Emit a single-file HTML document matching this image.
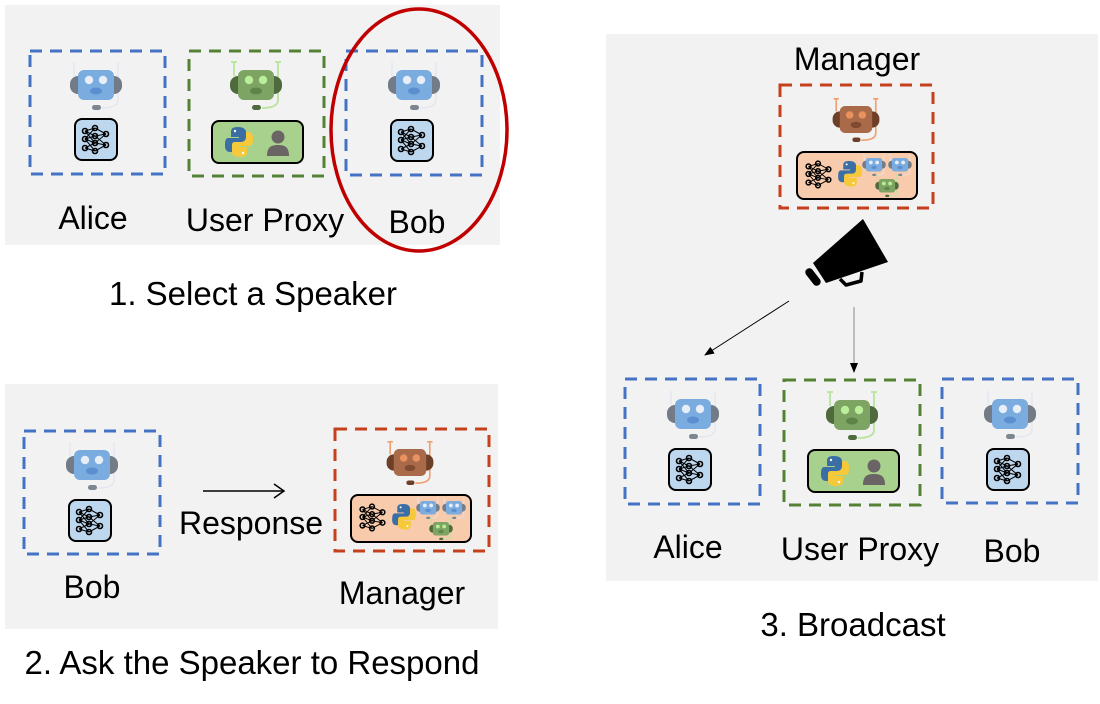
<!DOCTYPE html>
<html><head><meta charset="utf-8"><style>
html,body{margin:0;padding:0;background:#fff;}
svg{display:block;}
text{font-family:"Liberation Sans",Arial,sans-serif;fill:#000;}
</style></head><body>
<svg width="1100" height="704" viewBox="0 0 1100 704" xmlns="http://www.w3.org/2000/svg">
<defs>
  <g id="netlines">
    <g stroke="#000" stroke-width="1" fill="none">
      <path d="M10 12 L20 9 M10 12 L20 17 M10 20 L20 9 M10 20 L20 17 M10 20 L20 24 M10 29 L20 24 M10 29 L20 32 M10 12 L20 24 M20 9 L31 15 M20 17 L31 15 M20 17 L31 26 M20 24 L31 15 M20 24 L31 26 M20 32 L31 26 M10 20 L20 32"/>
    </g>
    <g fill="none" stroke="#000" stroke-width="1.6">
      <circle cx="10" cy="12" r="2.5"/><circle cx="10" cy="20" r="2.5"/><circle cx="10" cy="29" r="2.5"/>
      <circle cx="20" cy="9" r="2.5"/><circle cx="20" cy="17" r="2.5"/><circle cx="20" cy="24" r="2.5"/><circle cx="20" cy="32" r="2.5"/>
      <circle cx="31" cy="15" r="2.5"/><circle cx="31" cy="26" r="2.5"/>
    </g>
  </g>
  <g id="net">
    <rect x="0" y="0" width="42" height="41" rx="7" fill="#bdd7ee" stroke="#000" stroke-width="2"/>
    <use href="#netlines"/>
  </g>
  <g id="botB">
    <path d="M-22 -8 V6 M22 -8 V30 Q22 38 6 38" stroke="#e6e6f2" stroke-width="1.5" fill="none"/>
    <rect x="-26" y="6" width="52" height="18" rx="8" fill="#727b86"/>
    <rect x="-18" y="0" width="36" height="30" rx="6" fill="#7aace0"/>
    <circle cx="-7" cy="10" r="4.2" fill="#e8eef8"/><circle cx="7" cy="10" r="4.2" fill="#e8eef8"/>
    <ellipse cx="0" cy="21" rx="6" ry="3.5" fill="#5b8fcf"/>
    <rect x="-4" y="35" width="9" height="5" rx="2.5" fill="#7d8590"/>
  </g>
  <g id="botG">
    <path d="M-22 -8 V6 M22 -8 V30 Q22 38 6 38 M-25 -8 H-19 M19 -8 H25" stroke="#b6e59a" stroke-width="1.8" fill="none"/>
    <rect x="-26" y="6" width="52" height="18" rx="8" fill="#4f6b3e"/>
    <rect x="-18" y="0" width="36" height="30" rx="6" fill="#7ea464"/>
    <circle cx="-7" cy="10" r="4.2" fill="#b9ee9a"/><circle cx="7" cy="10" r="4.2" fill="#b9ee9a"/>
    <ellipse cx="0" cy="21" rx="6" ry="3.5" fill="#5f8449"/>
    <rect x="-4" y="35" width="9" height="5" rx="2.5" fill="#4f6b3e"/>
  </g>
  <g id="botR">
    <path d="M-22 -8 V6 M22 -8 V30 Q22 38 6 38 M-25 -8 H-19 M19 -8 H25" stroke="#f0a070" stroke-width="1.8" fill="none"/>
    <rect x="-26" y="6" width="52" height="18" rx="8" fill="#6e3f28"/>
    <rect x="-18" y="0" width="36" height="30" rx="6" fill="#a86a48"/>
    <circle cx="-7" cy="10" r="4.2" fill="#e9915f"/><circle cx="7" cy="10" r="4.2" fill="#e9915f"/>
    <ellipse cx="0" cy="21" rx="6" ry="3.5" fill="#7e4a30"/>
    <rect x="-4" y="35" width="9" height="5" rx="2.5" fill="#6e3f28"/>
  </g>
  <g id="py">
    <path d="M12 0 C5 0 5 3 5 6 V10 H13 V11 H2 C-1 11 -1 16 -1 19 C-1 23 1 25 4 25 H6 V20 C6 17 8 15 11 15 H17 C19 15 20 14 20 12 V5 C20 2 17 0 12 0 Z" fill="#3b6ea5"/>
    <path d="M14 30 C21 30 21 27 21 24 V20 H13 V19 H24 C27 19 27 14 27 11 C27 7 25 5 22 5 H20 V10 C20 13 18 15 15 15 H9 C7 15 6 16 6 18 V25 C6 28 9 30 14 30 Z" fill="#f6c93a"/>
    <circle cx="9" cy="4" r="1.2" fill="#fff"/><circle cx="17" cy="26" r="1.2" fill="#fff"/>
  </g>
  <g id="person">
    <circle cx="11" cy="7" r="6.5" fill="#6b6464"/>
    <path d="M0 26 C0 17 4 15 11 15 C18 15 22 17 22 26 Z" fill="#6b6464"/>
  </g>
  <g id="upPanel">
    <rect x="0" y="0" width="91" height="42" rx="7" fill="#a9d18e" stroke="#000" stroke-width="2"/>
    <use href="#py" x="14" y="6"/>
    <use href="#person" x="55" y="9"/>
  </g>
  <g id="mgr">
    <use href="#botR" transform="translate(77,22) scale(0.9)"/>
    <rect x="18" y="68" width="120" height="47" rx="7" fill="#f8cbad" stroke="#000" stroke-width="2"/>
    <use href="#netlines" transform="translate(20,71) scale(0.95)"/>
    <use href="#py" transform="translate(60,77) scale(0.85)"/>
    <use href="#botB" transform="translate(95,74) scale(0.45)"/>
    <use href="#botB" transform="translate(121,74) scale(0.45)"/>
    <use href="#botG" transform="translate(108,95) scale(0.45)"/>
  </g>
  <marker id="ah" markerWidth="10" markerHeight="8" refX="9" refY="4" orient="auto" markerUnits="userSpaceOnUse">
    <path d="M0 0 L10 4 L0 8 Z" fill="#000"/>
  </marker>
</defs>

<!-- Panel 1 -->
<rect x="5" y="5" width="495" height="240" fill="#f2f2f2"/>
<rect x="30" y="51" width="135" height="123" fill="none" stroke="#4472c4" stroke-width="3" stroke-dasharray="12,8"/>
<use href="#botB" x="96" y="70"/>
<use href="#net" x="75" y="119"/>
<rect x="189" y="51" width="135" height="125" fill="none" stroke="#548235" stroke-width="3" stroke-dasharray="12,8"/>
<use href="#botG" x="256" y="70"/>
<use href="#upPanel" x="212" y="121"/>
<rect x="346" y="51" width="136" height="124" fill="none" stroke="#4472c4" stroke-width="3" stroke-dasharray="12,8"/>
<use href="#botB" x="414" y="70"/>
<use href="#net" x="391" y="120"/>
<text x="93" y="229" font-size="32" text-anchor="middle">Alice</text>
<text x="265" y="231" font-size="32" text-anchor="middle">User Proxy</text>
<text x="417" y="233" font-size="32" text-anchor="middle">Bob</text>
<ellipse cx="419" cy="130" rx="88" ry="121" fill="none" stroke="#c00000" stroke-width="3.5"/>
<text x="253" y="305" font-size="33" text-anchor="middle">1. Select a Speaker</text>

<!-- Panel 2 -->
<rect x="5" y="384" width="493" height="245" fill="#f2f2f2"/>
<rect x="24" y="431" width="136" height="123" fill="none" stroke="#4472c4" stroke-width="3" stroke-dasharray="12,8"/>
<use href="#botB" x="92" y="450"/>
<use href="#net" x="69" y="500"/>
<line x1="203" y1="491" x2="284" y2="491" stroke="#000" stroke-width="1.5"/>
<path d="M274 484 L284 491 L274 498" fill="none" stroke="#000" stroke-width="1.5"/>
<text x="251" y="534" font-size="32" text-anchor="middle">Response</text>
<rect x="335" y="429" width="154" height="122" fill="none" stroke="#c5401c" stroke-width="3" stroke-dasharray="12,8"/>
<use href="#mgr" x="333" y="427"/>
<text x="92" y="598" font-size="32" text-anchor="middle">Bob</text>
<text x="402" y="604" font-size="32" text-anchor="middle">Manager</text>
<text x="252" y="674" font-size="33" text-anchor="middle">2. Ask the Speaker to Respond</text>

<!-- Panel 3 -->
<rect x="606" y="34" width="492" height="547" fill="#f2f2f2"/>
<text x="857" y="70" font-size="32" text-anchor="middle">Manager</text>
<rect x="780" y="85" width="153" height="123" fill="none" stroke="#c5401c" stroke-width="3" stroke-dasharray="12,8"/>
<use href="#mgr" x="779" y="84"/>
<!-- megaphone -->
<polygon points="813,263 863,219 888,262 826,283" fill="#000"/>
<rect x="-4" y="-10" width="8" height="20" rx="4" fill="#000" transform="translate(813,277) rotate(-38)"/>
<path d="M840 279 L846 285 L861 281 L862 272" fill="none" stroke="#000" stroke-width="3.5" stroke-linejoin="round"/>
<line x1="789" y1="301" x2="705" y2="355" stroke="#000" stroke-width="1" marker-end="url(#ah)"/>
<line x1="854" y1="307" x2="854" y2="372" stroke="#888" stroke-width="1" marker-end="url(#ah)"/>
<rect x="625" y="379" width="135" height="125" fill="none" stroke="#4472c4" stroke-width="3" stroke-dasharray="12,8"/>
<use href="#botB" x="693" y="399"/>
<use href="#net" x="669" y="449"/>
<rect x="784" y="380" width="136" height="125" fill="none" stroke="#548235" stroke-width="3" stroke-dasharray="12,8"/>
<use href="#botG" x="852" y="400"/>
<use href="#upPanel" x="808" y="450"/>
<rect x="942" y="379" width="136" height="124" fill="none" stroke="#4472c4" stroke-width="3" stroke-dasharray="12,8"/>
<use href="#botB" x="1010" y="399"/>
<use href="#net" x="987" y="449"/>
<text x="688" y="558" font-size="32" text-anchor="middle">Alice</text>
<text x="860" y="560" font-size="32" text-anchor="middle">User Proxy</text>
<text x="1012" y="562" font-size="32" text-anchor="middle">Bob</text>
<text x="853" y="636" font-size="33" text-anchor="middle">3. Broadcast</text>
</svg>
</body></html>
